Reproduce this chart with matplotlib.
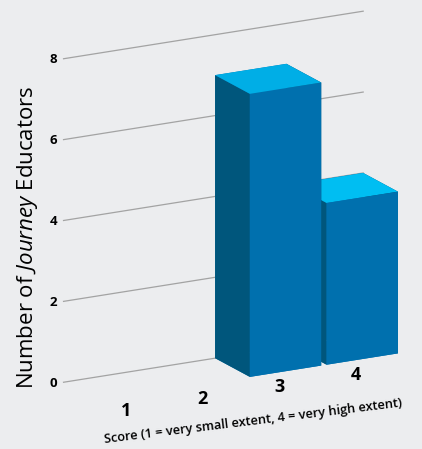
import numpy as np
import matplotlib.pyplot as plt

# data
scores = [1, 2, 3, 4]
counts = [0, 0, 7, 4]
y_ticks = [0, 2, 4, 6, 8]
x_title = 'Score (1 = very small extent, 4 = very high extent)'
y_title = r'Number of $\mathit{Journey}$ Educators'

# colours
bg = '#ECEDEF'
front = '#0070AE'
side = '#00567C'
tops = ['#00AEE6', '#00AEE6', '#00AEE6', '#00BEF2']
grid_col = '#A3A3A3'

plt.rcParams['font.family'] = 'Open Sans'
plt.rcParams['mathtext.fontset'] = 'custom'
plt.rcParams['mathtext.rm'] = 'Open Sans'
plt.rcParams['mathtext.it'] = 'Open Sans:italic'

fig = plt.figure(figsize=(4.22, 4.49), dpi=100, facecolor=bg)
ax = fig.add_axes([0.031, 0.028, 1, 1], projection='3d', proj_type='ortho')
ax.set_facecolor(bg)
ax.view_init(elev=17, azim=-118.5)
ax.set_xlim(0.5, 4.5)
ax.set_ylim(0, 1)
ax.set_zlim(0, 8)
ax.set_box_aspect((350, 73, 339), zoom=1.131)
ax.set_axis_off()
ax.computed_zorder = False

w = 0.93
wall = [0.56, scores[-1] + w / 2]

# gridlines on the back wall
for t in y_ticks:
    ax.plot(wall, [1, 1], [t, t], color=grid_col, lw=0.9, zorder=1)
    ax.text(wall[0] - 0.08, 1, t, str(t), ha='right', va='center', fontsize=9.5,
            fontweight='bold', zorder=1)

# bars, face order: -z, +z, -y, +y, -x, +x
for i, (s, c, t) in enumerate(zip(scores, counts, tops)):
    if c > 0:
        ax.bar3d(s - w / 2, 0, 0, w, 1, c, color=[front, t, front, front, side, side],
                 shade=False, edgecolor='none', zorder=10 - i)
    ax.text(s - 0.08, 0, -0.14, str(s), ha='center', va='top', fontsize=13,
            fontweight='bold', zorder=20)

fig.text(0.600, 0.062, x_title, rotation=7, ha='center', va='center',
         fontsize=9.2, fontweight='semibold')
fig.text(0.064, 0.472, y_title, rotation=90, ha='center', va='center', fontsize=16)

plt.savefig('out.png', dpi=100, facecolor=bg)
